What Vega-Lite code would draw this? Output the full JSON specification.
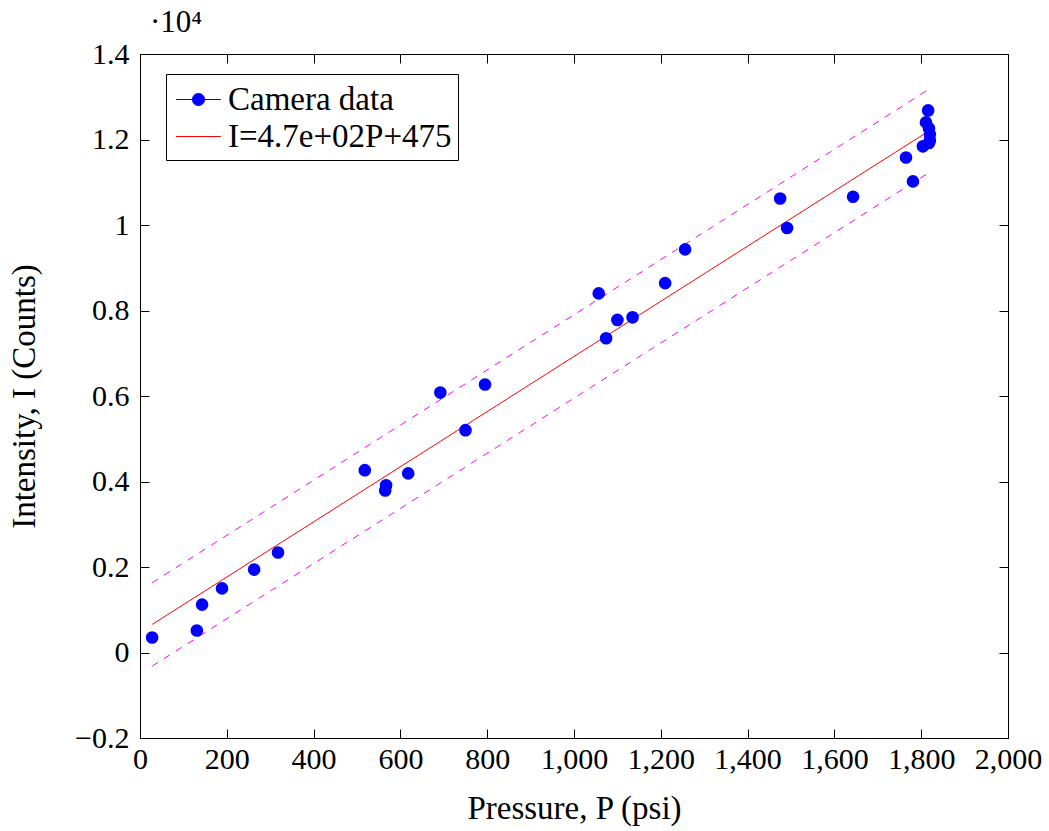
{
  "$schema": "https://vega.github.io/schema/vega-lite/v6.json",
  "width": 868,
  "height": 684,
  "autosize": "none",
  "padding": {"left": 140, "top": 54, "right": 41, "bottom": 93},
  "background": "white",
  "config": {
    "font": "Liberation Serif",
    "view": {"stroke": "black", "strokeWidth": 1},
    "axis": {
      "grid": false,
      "domain": false,
      "tickColor": "black",
      "tickSize": -9,
      "tickWidth": 1,
      "labelFlush": false,
      "labelOverlap": false,
      "labelBound": false,
      "labelFont": "Liberation Serif",
      "labelFontSize": 30,
      "labelColor": "black",
      "titleFont": "Liberation Serif",
      "titleFontSize": 33,
      "titleFontWeight": "normal",
      "titleColor": "black"
    },
    "legend": {
      "labelFont": "Liberation Serif",
      "labelFontSize": 33,
      "labelColor": "black"
    }
  },
  "title": {
    "text": "·10⁴",
    "anchor": "start",
    "frame": "group",
    "dx": 10,
    "offset": 0,
    "fontSize": 31,
    "fontWeight": "normal",
    "font": "Liberation Serif",
    "color": "black"
  },
  "datasets": {
    "pts": [
      {"P": 28, "I": 350, "series": "Camera data"},
      {"P": 131, "I": 515, "series": "Camera data"},
      {"P": 143, "I": 1120, "series": "Camera data"},
      {"P": 189, "I": 1500, "series": "Camera data"},
      {"P": 263, "I": 1940, "series": "Camera data"},
      {"P": 318, "I": 2340, "series": "Camera data"},
      {"P": 518, "I": 4265, "series": "Camera data"},
      {"P": 565, "I": 3790, "series": "Camera data"},
      {"P": 567, "I": 3910, "series": "Camera data"},
      {"P": 618, "I": 4190, "series": "Camera data"},
      {"P": 692, "I": 6080, "series": "Camera data"},
      {"P": 750, "I": 5200, "series": "Camera data"},
      {"P": 795, "I": 6270, "series": "Camera data"},
      {"P": 1057, "I": 8400, "series": "Camera data"},
      {"P": 1074, "I": 7350, "series": "Camera data"},
      {"P": 1100, "I": 7780, "series": "Camera data"},
      {"P": 1135, "I": 7840, "series": "Camera data"},
      {"P": 1210, "I": 8640, "series": "Camera data"},
      {"P": 1256, "I": 9430, "series": "Camera data"},
      {"P": 1475, "I": 10620, "series": "Camera data"},
      {"P": 1491, "I": 9930, "series": "Camera data"},
      {"P": 1643, "I": 10660, "series": "Camera data"},
      {"P": 1765, "I": 11580, "series": "Camera data"},
      {"P": 1781, "I": 11020, "series": "Camera data"},
      {"P": 1804, "I": 11840, "series": "Camera data"},
      {"P": 1816, "I": 12680, "series": "Camera data"},
      {"P": 1811, "I": 12400, "series": "Camera data"},
      {"P": 1818, "I": 12260, "series": "Camera data"},
      {"P": 1820, "I": 12120, "series": "Camera data"},
      {"P": 1820, "I": 11980, "series": "Camera data"},
      {"P": 1818, "I": 11920, "series": "Camera data"}
    ],
    "fit": [
      {"P": 28, "I": 656, "series": "I=4.7e+02P+475"},
      {"P": 1820, "I": 12214, "series": "I=4.7e+02P+475"}
    ],
    "band": [
      {"P": 28, "I": 1631, "bound": "upper"},
      {"P": 1820, "I": 13189, "bound": "upper"},
      {"P": 28, "I": -319, "bound": "lower"},
      {"P": 1820, "I": 11239, "bound": "lower"}
    ]
  },
  "resolve": {"axis": {"x": "independent", "y": "independent"}},
  "layer": [
    {
      "data": {"name": "band"},
      "mark": {"type": "line", "color": "#ff00ff", "strokeWidth": 1, "strokeDash": [7, 7]},
      "encoding": {
        "x": {
          "field": "P", "type": "quantitative",
          "scale": {"domain": [0, 2000], "nice": false, "zero": false},
          "axis": {"orient": "top", "labels": false, "title": null, "values": [0, 200, 400, 600, 800, 1000, 1200, 1400, 1600, 1800, 2000]}
        },
        "y": {
          "field": "I", "type": "quantitative",
          "scale": {"domain": [-2000, 14000], "nice": false, "zero": false},
          "axis": {"orient": "right", "labels": false, "title": null, "values": [-2000, 0, 2000, 4000, 6000, 8000, 10000, 12000, 14000]}
        },
        "detail": {"field": "bound"}
      }
    },
    {
      "data": {"name": "fit"},
      "mark": {"type": "line", "strokeWidth": 1},
      "encoding": {
        "x": {"field": "P", "type": "quantitative", "axis": null},
        "y": {"field": "I", "type": "quantitative", "axis": null},
        "color": {"field": "series", "type": "nominal"}
      }
    },
    {
      "data": {"name": "pts"},
      "mark": {"type": "point", "filled": true, "shape": "circle", "size": 160, "opacity": 1},
      "encoding": {
        "x": {
          "field": "P", "type": "quantitative",
          "axis": {
            "orient": "bottom",
            "title": "Pressure, P (psi)",
            "values": [0, 200, 400, 600, 800, 1000, 1200, 1400, 1600, 1800, 2000],
            "format": ",d",
            "labelPadding": 15,
            "titlePadding": 18
          }
        },
        "y": {
          "field": "I", "type": "quantitative",
          "axis": {
            "orient": "left",
            "title": "Intensity, I (Counts)",
            "values": [-2000, 0, 2000, 4000, 6000, 8000, 10000, 12000, 14000],
            "labelExpr": "format(datum.value / 10000, '~g')",
            "labelPadding": 20,
            "titlePadding": 33
          }
        },
        "color": {
          "field": "series", "type": "nominal",
          "scale": {"domain": ["Camera data", "I=4.7e+02P+475"], "range": ["#0000ff", "#ff0000"]},
          "legend": {
            "title": null,
            "orient": "none",
            "legendX": 26,
            "legendY": 20,
            "direction": "vertical",
            "fillColor": "white",
            "strokeColor": "black",
            "padding": 6,
            "rowPadding": 0,
            "symbolSize": 1444,
            "symbolOffset": 7,
            "labelOffset": 10,
            "symbolStrokeWidth": 1,
            "symbolOpacity": 1,
            "labelFontSize": 33,
            "labelLimit": 400,
            "encoding": {
              "symbols": {
                "shape": {"value": {"expr": "datum.value === 'Camera data' ? 'M-1.18,0H1.18M0.32,0A0.32,0.32,0,1,1,-0.32,0A0.32,0.32,0,1,1,0.32,0' : 'M-1.18,0H1.18'"}},
                "fill": {"value": {"expr": "datum.value === 'Camera data' ? '#0000ff' : 'transparent'"}},
                "stroke": {"value": {"expr": "datum.value === 'Camera data' ? '#0000ff' : '#ff0000'"}}
              }
            }
          }
        }
      }
    }
  ]
}
